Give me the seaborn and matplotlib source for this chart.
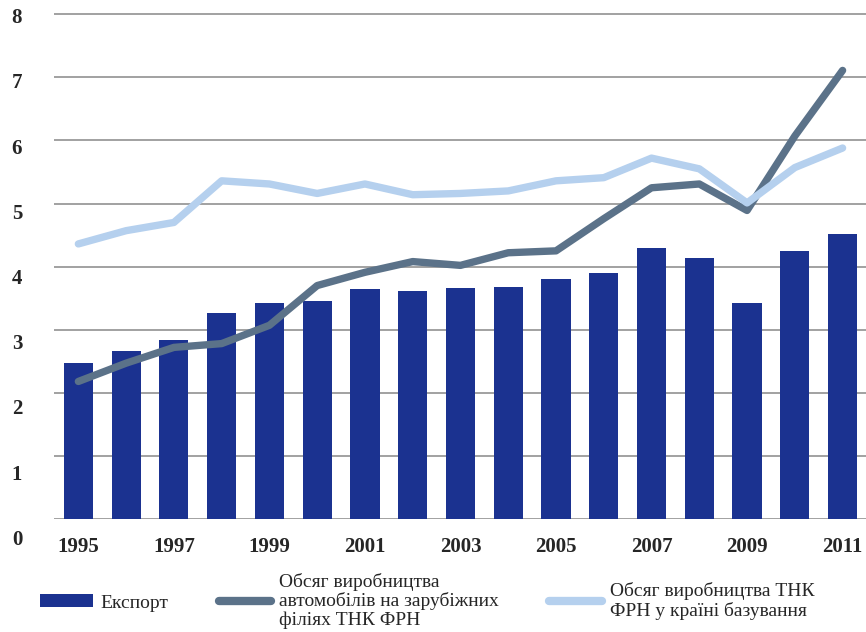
import numpy as np
import pandas as pd
import matplotlib
matplotlib.use("Agg")
import matplotlib.pyplot as plt
import matplotlib.transforms as mtransforms
from matplotlib.patches import Patch
from matplotlib.lines import Line2D
import seaborn as sns

years = list(range(1995, 2012))
export = [2.47, 2.66, 2.83, 3.27, 3.43, 3.46, 3.64, 3.62, 3.66, 3.67,
          3.81, 3.90, 4.30, 4.13, 3.43, 4.24, 4.52]
foreign = [2.18, 2.47, 2.72, 2.78, 3.07, 3.70, 3.91, 4.08, 4.02, 4.22,
           4.25, 4.76, 5.25, 5.31, 4.89, 6.07, 7.11]
home = [4.36, 4.57, 4.70, 5.36, 5.31, 5.16, 5.31, 5.14, 5.16, 5.20,
        5.36, 5.41, 5.72, 5.55, 5.01, 5.57, 5.88]
ytick_labels = ["0", "1", "2", "3", "4", "5", "6", "7", "8"]
xtick_years = [1995, 1997, 1999, 2001, 2003, 2005, 2007, 2009, 2011]
legend_labels = ["Експорт",
                 "Обсяг виробництва\nавтомобілів на зарубіжних\nфіліях ТНК ФРН",
                 "Обсяг виробництва ТНК\nФРН у країні базування"]

BAR = "#1b3290"
DARK = "#5b7289"
LIGHT = "#b5d0ee"

sns.set_style("white")
plt.rcParams['font.family'] = ['Liberation Serif', 'DejaVu Serif']

df = pd.DataFrame({"year": years, "export": export,
                   "foreign": foreign, "home": home})

fig = plt.figure(figsize=(8.66, 6.32), dpi=100)
ax = fig.add_axes([54/866, 1-519/632, 1-54/866, (519-13)/632])

sns.barplot(data=df, x="year", y="export", native_scale=True, width=0.61,
            color=BAR, saturation=1, ax=ax, zorder=2, linewidth=0)
sns.lineplot(data=df, x="year", y="foreign", color=DARK, lw=5.3,
             ax=ax, zorder=3, solid_capstyle="round", solid_joinstyle="round")
sns.lineplot(data=df, x="year", y="home", color=LIGHT, lw=5.3,
             ax=ax, zorder=4, solid_capstyle="round", solid_joinstyle="round")

ax.set_xlim(1994.49, 2011.49)
ax.set_ylim(0, 8.02)
ax.set_yticks(range(0, 9))
ax.yaxis.grid(True, color="#9a9a9a", lw=1.3, zorder=0)
ax.set_axisbelow(True)
ax.xaxis.grid(False)
ax.set_yticklabels([])
ax.tick_params(axis="y", length=0)
ax.set_xticks(xtick_years)
ax.set_xticklabels([str(y) for y in xtick_years], fontsize=15,
                   fontweight="bold")
ax.tick_params(axis="x", length=0, pad=13)
ax.set_xlabel("")
ax.set_ylabel("")
for s in ax.spines.values():
    s.set_visible(False)

# y labels (slightly offset scale as in the reference)
trans = mtransforms.blended_transform_factory(ax.transAxes, ax.transData)
for i, lab in enumerate(ytick_labels):
    ax.text(-0.0456, i * 1.034 - 0.332, lab, transform=trans, ha="center",
            va="center", fontsize=15, fontweight="bold", clip_on=False)

handles = [Patch(facecolor=BAR, edgecolor="none"),
           Line2D([], [], color=DARK, lw=6, solid_capstyle="round"),
           Line2D([], [], color=LIGHT, lw=6, solid_capstyle="round")]
leg = fig.legend(handles, legend_labels, loc="center left",
                 bbox_to_anchor=(40/866, 1-601/632), ncol=3, frameon=False,
                 fontsize=14, handlelength=2.7, handletextpad=0.4,
                 columnspacing=2.6, borderpad=0, borderaxespad=0,
                 handleheight=0.6)
for t in leg.get_texts():
    t.set_linespacing(1.12)

fig.savefig("out.png", dpi=100)
